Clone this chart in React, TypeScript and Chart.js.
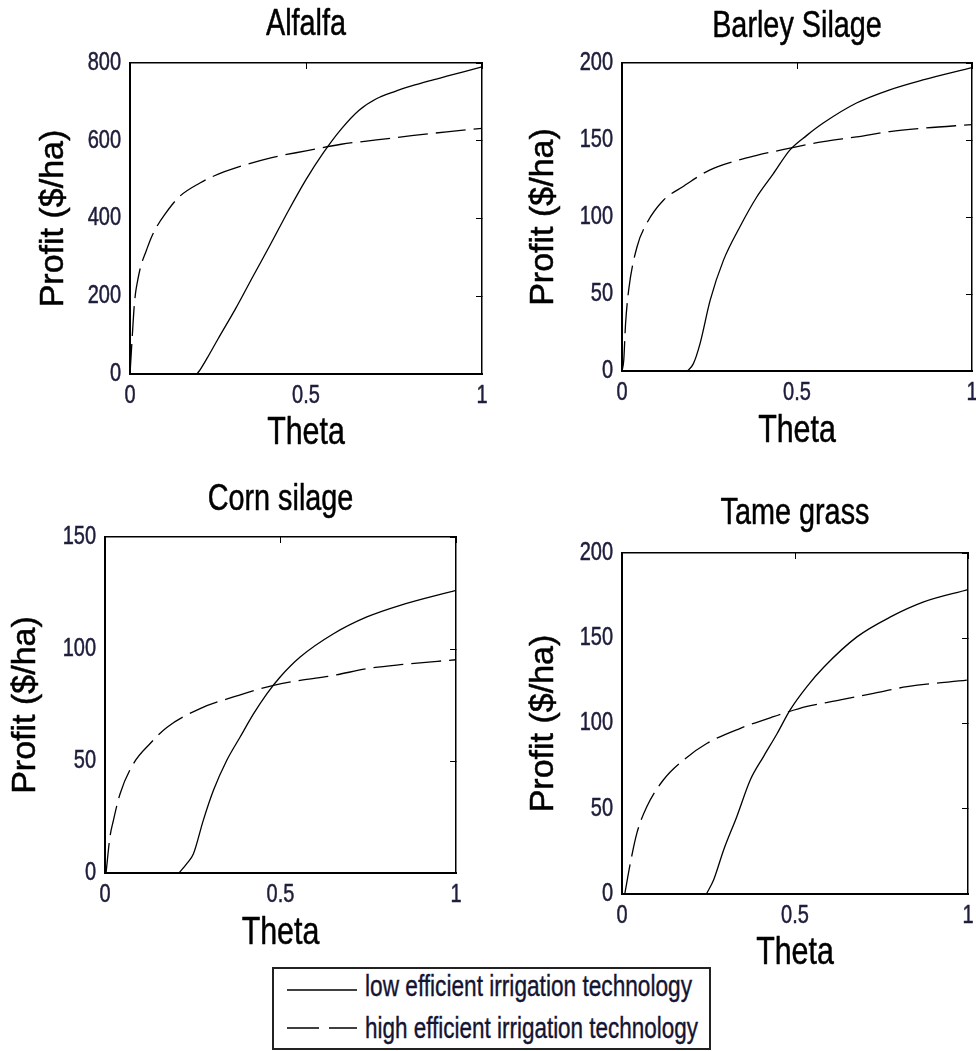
import React, { useEffect, useRef } from "react";
import { Chart, registerables } from "chart.js";

Chart.register(...registerables);

const FONT = "'Liberation Sans', Arial, sans-serif";
const TICK_COLOR = "#1e1e3c";
// horizontal squeeze applied to the upright text (titles, tick labels)
const CONDENSE = 0.8;
// slight outline that gives the glyphs a heavier look
const TEXT_STROKE = 0.5;

// Profit ($/ha) against Theta for each crop and irrigation technology
const alfalfaLowTheta = [0.19, 0.2, 0.22, 0.25, 0.3, 0.35, 0.4, 0.45, 0.5, 0.55, 0.6, 0.65, 0.7, 0.75, 0.8, 0.85, 0.9, 0.95, 1.0];
const alfalfaLowProfit = [0, 12, 42, 90, 168, 252, 335, 420, 500, 570, 630, 678, 708, 726, 741, 754, 766, 778, 790];
const alfalfaHighTheta = [0, 0.004, 0.008, 0.012, 0.016, 0.02, 0.03, 0.047, 0.06, 0.076, 0.1, 0.14, 0.2, 0.24, 0.3, 0.4, 0.5, 0.6, 0.7, 0.8, 0.9, 1.0];
const alfalfaHighProfit = [0, 60, 120, 175, 210, 232, 275, 319, 350, 379, 412, 456, 492, 510, 530, 556, 574, 591, 602, 613, 623, 632];

const barleyLowTheta = [0.187, 0.204, 0.223, 0.252, 0.29, 0.337, 0.385, 0.432, 0.48, 0.528, 0.575, 0.67, 0.765, 0.86, 1.0];
const barleyLowProfit = [0, 4.8, 17.8, 46, 72, 93.7, 113, 128, 143.6, 153, 161, 174, 182.6, 189, 197];
const barleyHighTheta = [0, 0.005, 0.01, 0.019, 0.043, 0.071, 0.119, 0.176, 0.242, 0.29, 0.385, 0.48, 0.575, 0.67, 0.765, 0.86, 1.0];
const barleyHighProfit = [0, 7, 30, 52.5, 80.7, 96, 111, 120, 129.5, 134, 140, 144.7, 149, 152, 155.5, 157.7, 160];

const cornLowTheta = [0.211, 0.233, 0.252, 0.28, 0.309, 0.347, 0.385, 0.423, 0.461, 0.499, 0.556, 0.651, 0.746, 0.841, 1.0];
const cornLowProfit = [0, 4.2, 8.6, 23.5, 36.9, 50.3, 60.7, 71, 80, 87.5, 96.4, 106.8, 114.3, 119.5, 126.2];
const cornHighTheta = [0.003, 0.014, 0.024, 0.043, 0.081, 0.128, 0.176, 0.271, 0.366, 0.48, 0.556, 0.651, 0.746, 0.841, 1.0];
const cornHighProfit = [0, 16, 23.5, 35.4, 48.8, 57.7, 65, 73.4, 78.6, 83.8, 86, 88.2, 91.2, 93, 95.2];

const tameLowTheta = [0.244, 0.265, 0.294, 0.332, 0.371, 0.409, 0.448, 0.486, 0.535, 0.583, 0.679, 0.776, 0.872, 1.0];
const tameLowProfit = [0, 8.4, 26, 45.5, 67, 80.6, 94, 108, 121.8, 133, 150.8, 162.5, 171.3, 178.5];
const tameHighTheta = [0.008, 0.024, 0.043, 0.072, 0.12, 0.178, 0.246, 0.342, 0.438, 0.535, 0.631, 0.727, 0.824, 1.0];
const tameHighProfit = [0, 18, 35.7, 51.3, 67, 78.6, 88.4, 97.2, 104, 110, 113.8, 117.7, 121.6, 125.5];

// Tick values
const thetaTicks = [0, 0.5, 1];
const alfalfaTicks = [0, 200, 400, 600, 800];
const barleyTicks = [0, 50, 100, 150, 200];
const cornTicks = [0, 50, 100, 150];
const tameTicks = [0, 50, 100, 150, 200];

const cropTitles = ["Alfalfa", "Barley Silage", "Corn silage", "Tame grass"];
const seriesLabels = ["low efficient irrigation technology", "high efficient irrigation technology"];
const xAxisTitle = "Theta";
const yAxisTitle = "Profit ($/ha)";

type Box = { x: number; y: number; w: number; h: number };
type Area = { l: number; t: number; r: number; b: number };

type PanelProps = {
  title: string;
  lowTheta: number[];
  lowProfit: number[];
  highTheta: number[];
  highProfit: number[];
  yTicks: number[];
  box: Box;
  area: Area;
  titleMid: number;
  yTitleMid: number;
  xTitleMid: number;
};

function toPoints(xs: number[], ys: number[]) {
  return xs.map((x, i) => ({ x, y: ys[i] }));
}

// Draws upright text slightly narrowed around its anchor point; the rotated
// y-axis title keeps its natural proportions.
const condensePlugin = {
  id: "condenseText",
  beforeDraw(chart: any) {
    const ctx: any = chart.ctx;
    const proto = Object.getPrototypeOf(ctx);
    const fill = proto.fillText;
    const stroke = proto.strokeText;
    ctx.fillText = function (text: string, x: number, y: number) {
      this.save();
      this.translate(x, y);
      if (text !== yAxisTitle) this.scale(CONDENSE, 1);
      this.strokeStyle = this.fillStyle;
      this.lineWidth = TEXT_STROKE;
      this.lineJoin = "round";
      this.setLineDash([]);
      fill.call(this, text, 0, 0);
      stroke.call(this, text, 0, 0);
      this.restore();
    };
  },
  afterDraw(chart: any) {
    delete (chart.ctx as any).fillText;
  },
};

function Panel(p: PanelProps) {
  const ref = useRef<HTMLCanvasElement | null>(null);

  useEffect(() => {
    if (!ref.current) return;
    const { x, y, w, h } = p.box;
    const { l, t, r, b } = p.area;

    const yAxisWidth = l - x;
    const xAxisHeight = y + h - b;
    const titleBlock = t - y;
    const rightPad = x + w - r;

    const titleSize = 36;
    const titleLH = titleSize * 1.2;
    const titlePadTop = p.titleMid - y - titleLH / 2;
    const titlePadBottom = titleBlock - titleLH - titlePadTop;

    const xtSize = 38;
    const xtPadBottom = y + h - p.xTitleMid - (xtSize * 1.2) / 2;

    const ytSize = 34;
    const ytPadTop = p.yTitleMid - x - (ytSize * 1.2) / 2;

    const yMin = p.yTicks[0];
    const yMax = p.yTicks[p.yTicks.length - 1];
    const setX = (s: any) => {
      s.ticks = thetaTicks.map((v) => ({ value: v }));
    };
    const setY = (s: any) => {
      s.ticks = p.yTicks.map((v) => ({ value: v }));
    };
    const label = (v: any) => String(v);

    const chart = new Chart(ref.current, {
      type: "line",
      data: {
        datasets: [
          {
            label: seriesLabels[0],
            data: toPoints(p.lowTheta, p.lowProfit),
            borderColor: "#000",
            borderWidth: 1.3,
            pointRadius: 0,
            fill: false,
            cubicInterpolationMode: "monotone",
          },
          {
            label: seriesLabels[1],
            data: toPoints(p.highTheta, p.highProfit),
            borderColor: "#000",
            borderWidth: 1.3,
            borderDash: [30, 8],
            pointRadius: 0,
            fill: false,
            cubicInterpolationMode: "monotone",
          },
        ],
      },
      plugins: [condensePlugin],
      options: {
        animation: false,
        responsive: false,
        devicePixelRatio: 1,
        events: [],
        layout: { padding: { left: 0, top: 0, bottom: 0, right: rightPad } },
        plugins: {
          legend: { display: false },
          tooltip: { enabled: false },
          title: {
            display: true,
            text: p.title,
            color: "#000",
            fullSize: false,
            font: { family: FONT, size: titleSize, weight: "normal" },
            padding: { top: titlePadTop, bottom: titlePadBottom },
          },
        },
        scales: {
          x: {
            type: "linear",
            position: "bottom",
            min: 0,
            max: 1,
            afterBuildTicks: setX,
            afterFit: (s: any) => {
              s.height = xAxisHeight;
              s.paddingLeft = 0;
              s.paddingRight = 0;
            },
            grid: { display: false, drawTicks: false },
            border: { display: true, color: "#000", width: 2 },
            ticks: {
              padding: 7,
              color: TICK_COLOR,
              maxRotation: 0,
              autoSkip: false,
              callback: label,
              font: { family: FONT, size: 25 },
            },
            title: {
              display: true,
              text: xAxisTitle,
              color: "#000",
              font: { family: FONT, size: xtSize },
              padding: { top: 0, bottom: xtPadBottom },
            },
          },
          y: {
            type: "linear",
            position: "left",
            min: yMin,
            max: yMax,
            afterBuildTicks: setY,
            afterFit: (s: any) => {
              s.width = yAxisWidth;
              s.paddingTop = 0;
              s.paddingBottom = 0;
            },
            grid: { display: false, drawTicks: false },
            border: { display: true, color: "#000", width: 2 },
            ticks: {
              padding: 9,
              color: TICK_COLOR,
              autoSkip: false,
              callback: label,
              font: { family: FONT, size: 25 },
            },
            title: {
              display: true,
              text: yAxisTitle,
              color: "#000",
              font: { family: FONT, size: ytSize },
              padding: { top: ytPadTop, bottom: 0 },
            },
          },
          x2: {
            type: "linear",
            position: "top",
            min: 0,
            max: 1,
            afterBuildTicks: setX,
            afterFit: (s: any) => {
              s.height = 0;
              s.paddingLeft = 0;
              s.paddingRight = 0;
            },
            grid: { display: true, drawOnChartArea: false, drawTicks: true, tickLength: -6, color: "#000", lineWidth: 1 },
            border: { display: true, color: "#000", width: 1.5 },
            ticks: { display: false },
          },
          y2: {
            type: "linear",
            position: "right",
            min: yMin,
            max: yMax,
            afterBuildTicks: setY,
            afterFit: (s: any) => {
              s.width = 0;
              s.paddingTop = 0;
              s.paddingBottom = 0;
            },
            grid: { display: true, drawOnChartArea: false, drawTicks: true, tickLength: -6, color: "#000", lineWidth: 1 },
            border: { display: true, color: "#000", width: 1.5 },
            ticks: { display: false },
          },
        },
      } as any,
    });
    return () => chart.destroy();
  }, []);

  return (
    <canvas
      ref={ref}
      width={p.box.w}
      height={p.box.h}
      style={{ position: "absolute", left: p.box.x, top: p.box.y, width: p.box.w, height: p.box.h }}
    />
  );
}

function Legend() {
  return (
    <svg width={442} height={84} style={{ position: "absolute", left: 272, top: 967 }}>
      <rect x={1} y={1} width={437} height={81} fill="#fff" stroke="#222" strokeWidth={2} />
      <line x1={15} y1={23} x2={85} y2={23} stroke="#000" strokeWidth={1.6} />
      <line x1={15} y1={61} x2={85} y2={61} stroke="#000" strokeWidth={1.6} strokeDasharray="32 10" />
      <text x={93} y={29} fontFamily={FONT} fontSize={29} fill="#141432" stroke="#141432" strokeWidth={0.4} textLength={327} lengthAdjust="spacingAndGlyphs">
        {seriesLabels[0]}
      </text>
      <text x={93} y={71} fontFamily={FONT} fontSize={29} fill="#141432" stroke="#141432" strokeWidth={0.4} textLength={333} lengthAdjust="spacingAndGlyphs">
        {seriesLabels[1]}
      </text>
    </svg>
  );
}

export default function App() {
  return (
    <div
      style={{
        position: "absolute",
        left: 0,
        top: 0,
        width: 976,
        height: 1051,
        background: "#fff",
        overflow: "hidden",
      }}
    >
      <Panel
        title={cropTitles[0]}
        lowTheta={alfalfaLowTheta}
        lowProfit={alfalfaLowProfit}
        highTheta={alfalfaHighTheta}
        highProfit={alfalfaHighProfit}
        yTicks={alfalfaTicks}
        box={{ x: 0, y: 0, w: 500, h: 460 }}
        area={{ l: 130, t: 63, r: 482, b: 374 }}
        titleMid={25}
        yTitleMid={53.5}
        xTitleMid={433.5}
      />
      <Panel
        title={cropTitles[1]}
        lowTheta={barleyLowTheta}
        lowProfit={barleyLowProfit}
        highTheta={barleyHighTheta}
        highProfit={barleyHighProfit}
        yTicks={barleyTicks}
        box={{ x: 490, y: 0, w: 486, h: 460 }}
        area={{ l: 622, t: 63, r: 972, b: 371 }}
        titleMid={27}
        yTitleMid={543.5}
        xTitleMid={431.5}
      />
      <Panel
        title={cropTitles[2]}
        lowTheta={cornLowTheta}
        lowProfit={cornLowProfit}
        highTheta={cornHighTheta}
        highProfit={cornHighProfit}
        yTicks={cornTicks}
        box={{ x: 0, y: 465, w: 480, h: 500 }}
        area={{ l: 105, t: 537, r: 456, b: 873 }}
        titleMid={500}
        yTitleMid={25.5}
        xTitleMid={933.5}
      />
      <Panel
        title={cropTitles[3]}
        lowTheta={tameLowTheta}
        lowProfit={tameLowProfit}
        highTheta={tameHighTheta}
        highProfit={tameHighProfit}
        yTicks={tameTicks}
        box={{ x: 490, y: 480, w: 486, h: 500 }}
        area={{ l: 622, t: 553, r: 968, b: 894 }}
        titleMid={514.5}
        yTitleMid={543.5}
        xTitleMid={954}
      />
      <Legend />
    </div>
  );
}
